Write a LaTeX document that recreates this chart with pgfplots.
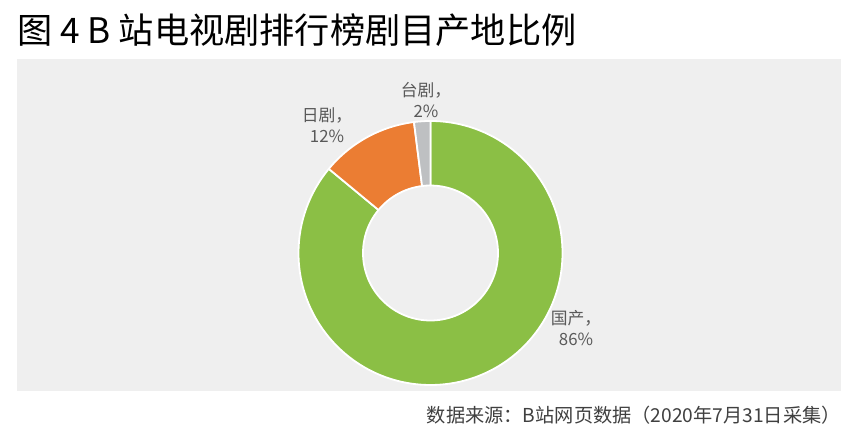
\documentclass[border=0pt]{standalone}
\usepackage{fontspec}
\setmainfont{Noto Sans CJK SC}
\usepackage{pgfplots}
\usepackage{pgfplotstable}
\pgfplotsset{compat=1.18}

\definecolor{bgpanel}{HTML}{EFEFEF}
\definecolor{slice0}{HTML}{8BBF45}
\definecolor{slice1}{HTML}{EB7D33}
\definecolor{slice2}{HTML}{BEC0C2}
\definecolor{lbl}{HTML}{595959}
\definecolor{src}{HTML}{404040}

% share of titles by origin, in percent (clockwise from 12 o'clock)
\pgfplotstableread{
origin share
0 86
1 12
2 2
}\shares

\begin{document}
\begin{tikzpicture}
\begin{axis}[
    scale only axis,
    width=425.5pt, height=218.5pt,
    xmin=0, xmax=851, ymin=0, ymax=437,
    hide axis, clip=false,
  ]
  \fill[white] (axis cs:0,0) rectangle (axis cs:851,437);
  \fill[bgpanel] (axis cs:17,46) rectangle (axis cs:841,378);

  \pgfplotsextra{
    \gdef\acc{90}
    \pgfplotstablegetrowsof{\shares}
    \pgfmathtruncatemacro{\lastrow}{\pgfplotsretval-1}
    \foreach \i in {0,...,\lastrow}{
      \pgfplotstablegetelem{\i}{share}\of{\shares}
      \pgfmathsetmacro{\endang}{\acc-3.6*\pgfplotsretval}
      \begin{scope}[shift={(axis cs:430.5,184)}]
        \filldraw[fill=slice\i, draw=white, line width=0.9pt, line join=round]
          (\acc:66pt) arc[start angle=\acc, end angle=\endang, radius=66pt]
          -- (\endang:33.75pt) arc[start angle=\endang, end angle=\acc, radius=33.75pt]
          -- cycle;
      \end{scope}
      \xdef\acc{\endang}
    }
  }

  \node[anchor=west, inner sep=0pt, font=\fontsize{17.6}{20}\selectfont]
    at (axis cs:17,407) {图 4 B 站电视剧排行榜剧目产地比例};

  \begin{scope}[every node/.style={align=center, inner sep=0pt, text=lbl,
      font=\fontsize{8.4}{10.5}\selectfont}]
    \node at (axis cs:576,108.5) {国产，\\86\%};
    \node at (axis cs:327,311.5) {日剧，\\12\%};
    \node at (axis cs:426,337) {台剧，\\2\%};
  \end{scope}

  \node[anchor=east, inner sep=0pt, text=src, font=\fontsize{9.6}{11}\selectfont]
    at (axis cs:841,22) {数据来源：B站网页数据（2020年7月31日采集）};
\end{axis}
\end{tikzpicture}
\end{document}
